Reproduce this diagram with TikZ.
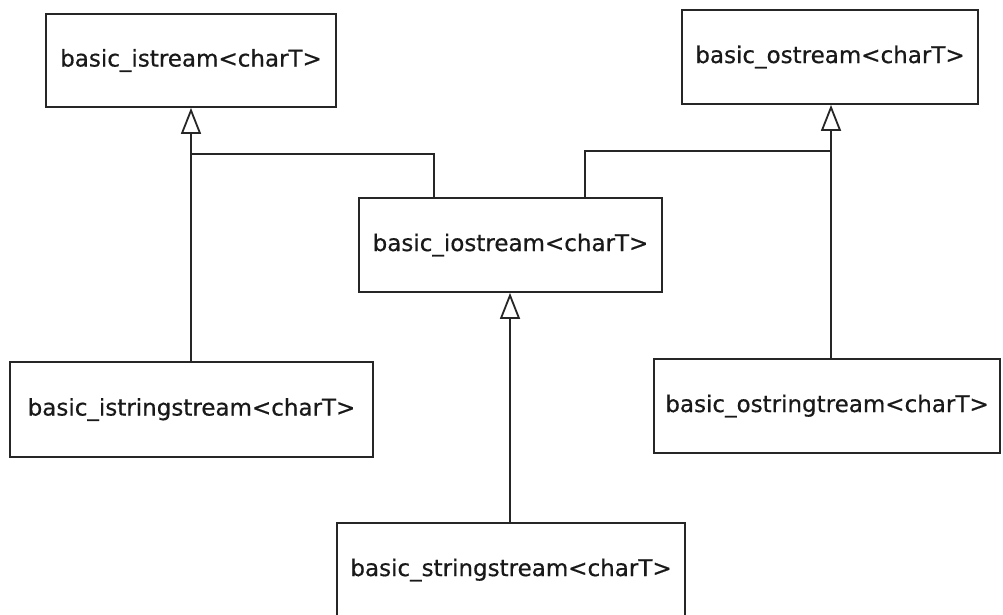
\documentclass[tikz,border=0pt]{standalone}
\usepackage{fontspec}
\setmainfont{DejaVu Sans}
\newfontfamily\boxfont{DejaVu Sans}[FakeBold=0.5]
\usetikzlibrary{arrows.meta}
\begin{document}
\begin{tikzpicture}[x=1pt,y=-1pt,
  cls/.style={draw=black!85, line width=1.8pt, rectangle, inner sep=0pt, align=center,
    font=\boxfont\fontsize{23}{28}\selectfont, text=black!90},
  link/.style={draw=black!85, line width=1.8pt},
  inh/.style={link, -{Triangle[open, length=26pt, width=20pt, line width=1.8pt]}}]
\useasboundingbox[fill=white] (0,0) rectangle (1003,615);
\node[cls, minimum width=290pt, minimum height=93pt] (istream) at (191,60.5) {basic\_istream<charT>};
\node[cls, minimum width=296pt, minimum height=94pt] (ostream) at (830,57) {basic\_ostream<charT>};
\node[cls, minimum width=303pt, minimum height=94pt] (iostream) at (510.5,245) {basic\_iostream<charT>};
\node[cls, minimum width=363pt, minimum height=95pt] (isstr) at (191.5,409.5) {basic\_istringstream<charT>};
\node[cls, minimum width=346pt, minimum height=94pt] (osstr) at (827,406) {basic\_ostringtream<charT>};
\node[cls, minimum width=348pt, minimum height=94pt] (sstr) at (511,570) {basic\_stringstream<charT>};
\coordinate (jl) at (191,154);
\coordinate (jr) at (831,151);
\draw[inh] (isstr.north -| jl) -- (istream.south -| jl);
\draw[link] (iostream.north -| 434,0) |- (jl);
\draw[inh] (osstr.north -| jr) -- (ostream.south -| jr);
\draw[link] (iostream.north -| 585,0) |- (jr);
\draw[inh] (sstr.north -| 510,0) -- (iostream.south -| 510,0);
\end{tikzpicture}
\end{document}
